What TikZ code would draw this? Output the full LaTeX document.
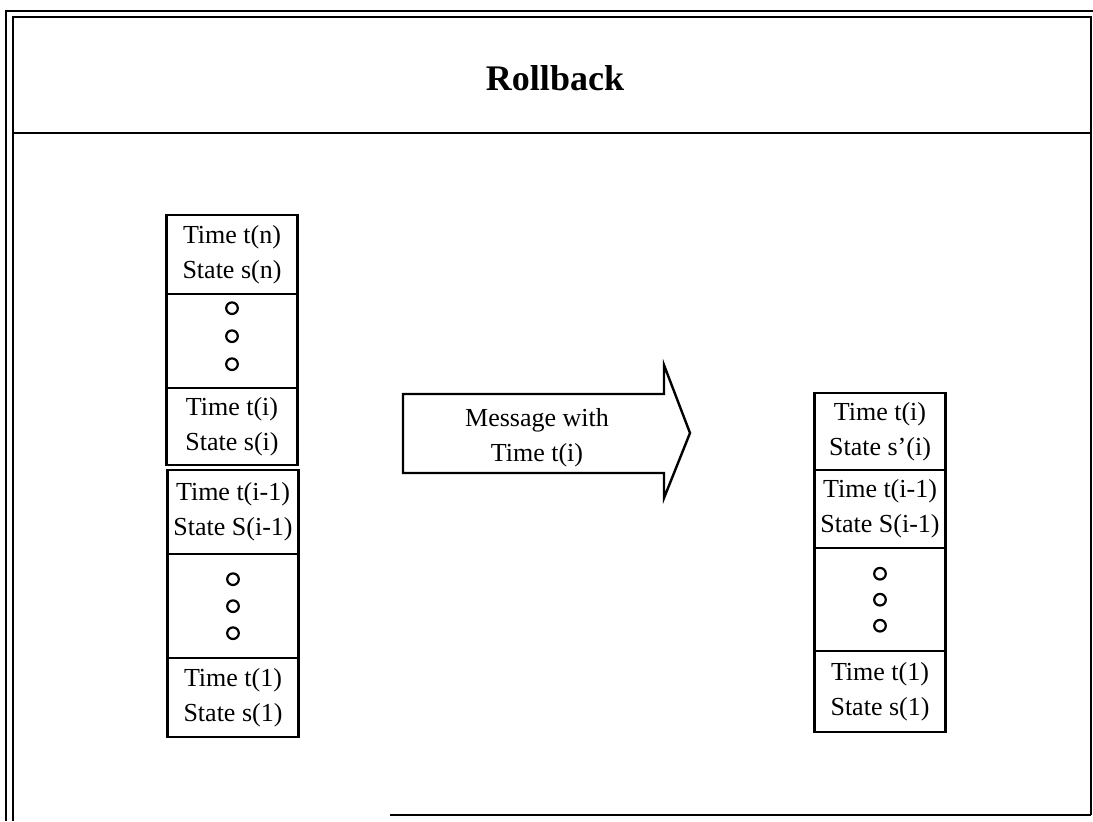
\documentclass[tikz,border=0pt]{standalone}
\usepackage{fontspec}
\setmainfont{Liberation Serif}
\usetikzlibrary{positioning}
\tikzset{
  frameline/.style={line width=1.4pt},
  cell/.style={draw, line width=1.2pt, minimum width=65.5pt, anchor=north, align=center, inner sep=0pt, font=\fontsize{13}{17.5}\selectfont},
  dot/.style={line width=1.1pt},
}

\begin{document}
\begin{tikzpicture}[x=0.5pt, y=-0.5pt]
  \useasboundingbox (0,0) rectangle (1093,821);
  % frame and header
  \draw[frameline] (6,821) -- (6,11) -- (1093,11);
  \draw[frameline] (13,821) -- (13,17) -- (1091,17) -- (1091,815);
  \draw[frameline] (13,133) -- (1091,133);
  \draw[frameline] (390,815) -- (1091,815);
  \node[font=\fontsize{18}{20}\selectfont\bfseries] (title) at (555,78) {Rollback};

  % stack before the message
  \node[cell, minimum height=39.5pt] (ltn) at (232,214) {Time t(n)\\State s(n)};
  \node[cell, minimum height=47pt] (ldotsa) at (232,293) {};
  \node[cell, minimum height=38.5pt] (lti) at (232,387) {Time t(i)\\State s(i)};
  \node[cell, minimum height=42pt] (ltim) at (233,469) {Time t(i-1)\\State S(i-1)};
  \node[cell, minimum height=52pt] (ldotsb) at (233,553) {};
  \node[cell, minimum height=39.5pt] (lta) at (233,657) {Time t(1)\\State s(1)};
  \foreach \d in {-28,0,28}
    \draw[dot] (ldotsa.center) ++(0,\d-5) circle (2.9pt);
  \foreach \d in {-27,0,27}
    \draw[dot] (ldotsb.center) ++(0,\d) circle (2.9pt);

  % message
  \draw[line width=1.2pt] (403,394) -- (664,394) -- (664,365) -- (690,433)
    -- (664,498) -- (664,473) -- (403,473) -- cycle;
  \node[align=center, font=\fontsize{13}{17.5}\selectfont] (msg) at (537,438) {Message with\\Time t(i)};

  % stack after the rollback
  \node[cell, minimum height=38.5pt] (rti) at (880,392) {Time t(i)\\State s'(i)};
  \node[cell, minimum height=39pt] (rtim) at (880,469) {Time t(i-1)\\State S(i-1)};
  \node[cell, minimum height=51.5pt] (rdots) at (880,547) {};
  \node[cell, minimum height=40.5pt] (rta) at (880,650) {Time t(1)\\State s(1)};
  \foreach \d in {-26,0,26}
    \draw[dot] (rdots.center) ++(0,\d) circle (2.9pt);
\end{tikzpicture}
\end{document}
